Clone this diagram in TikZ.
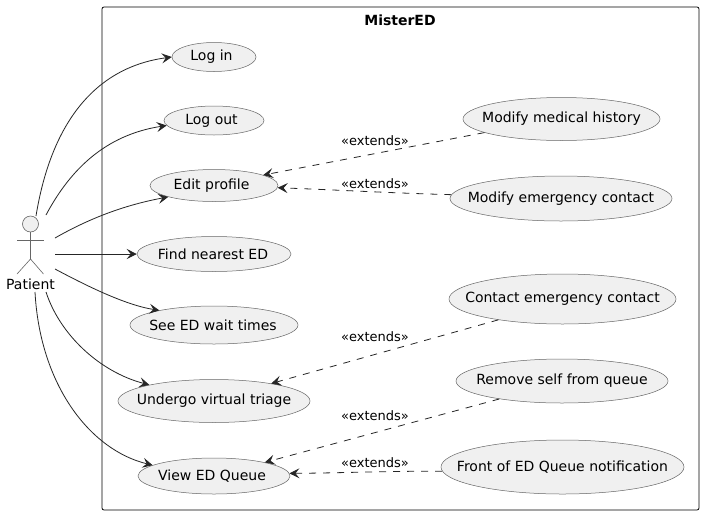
\documentclass[tikz,border=0pt]{standalone}
\usepackage{fontspec}
\setmainfont{DejaVu Sans}
\usetikzlibrary{arrows.meta,shapes.geometric}

\tikzset{
	usecase/.style={draw=black!60, fill=black!6, line width=0.5pt, ellipse, inner sep=0pt, font=\fontsize{14}{16}\selectfont},
	uses/.style={line width=0.8pt, black!85, -{Stealth[length=10pt,width=10pt,inset=4pt]}},
	extends/.style={line width=0.8pt, black!85, dash pattern=on 7pt off 7pt, -{Stealth[length=10pt,width=10pt,inset=4pt]}},
	extlabel/.style={inner sep=0pt, font=\fontsize{13}{15}\selectfont},
	limb/.style={draw=black!60, line width=0.6pt}
}
% text must not push the ellipse wider than its given size
\newcommand{\uc}[2][0pt]{\makebox[0pt]{#2\hspace*{#1}}}

\begin{document}
\begin{tikzpicture}[x=1pt,y=-1pt]
	
	\useasboundingbox (0,0) rectangle (704,515);
	\fill[white] (0,0) rectangle (704,515);
	
	% system box
	\draw[line width=0.8pt, rounded corners=2pt] (102,7) rectangle (699,510);
	\node[font=\bfseries\fontsize{14}{16}\selectfont, inner sep=0pt] (title) at (400,20) {MisterED};
	
	% actor
	\node[circle, limb, fill=black!6, minimum size=16pt, inner sep=0pt] (head) at (30.5,224) {};
	\coordinate (hip) at (30.5,259);
	\draw[limb] (head.south) -- (hip);
	\draw[limb] (17,240) -- (43.5,240);
	\draw[limb] (17,274) -- (hip) -- (43.5,274);
	\node[font=\fontsize{14}{16}\selectfont, inner sep=0pt] (patient) at (30.5,284) {Patient};
	
	\coordinate (pIn) at (36,216);
	\coordinate (pOut) at (46,215);
	\coordinate (pEdit) at (55,238);
	\coordinate (pFind) at (55,254);
	\coordinate (pWait) at (55,269);
	\coordinate (pTriage) at (46,292);
	\coordinate (pQueue) at (35,292);
	
	% use cases, left column
	\node[usecase, minimum width=84pt, minimum height=29pt] (login) at (214,57) {\uc[5pt]{Log in}};
	\node[usecase, minimum width=100pt, minimum height=29pt] (logout) at (214,120.5) {\uc[5pt]{Log out}};
	\node[usecase, minimum width=128pt, minimum height=32pt] (edit) at (214,185.5) {\uc[5pt]{Edit profile}};
	\node[usecase, minimum width=154pt, minimum height=35pt] (find) at (214,254) {\uc[2pt]{Find nearest ED}};
	\node[usecase, minimum width=168pt, minimum height=38pt] (wait) at (214,325) {\uc[2pt]{See ED wait times}};
	\node[usecase, minimum width=192pt, minimum height=43pt] (triage) at (214,401) {\uc{Undergo virtual triage}};
	\node[usecase, minimum width=152pt, minimum height=36pt] (queue) at (214,476) {\uc[4pt]{View ED Queue}};
	
	% use cases, right column
	\node[usecase, minimum width=197pt, minimum height=43pt] (history) at (561.5,119) {\uc{Modify medical history}};
	\node[usecase, minimum width=222pt, minimum height=45pt] (emerg) at (561,198.5) {\uc{Modify emergency contact}};
	\node[usecase, minimum width=227pt, minimum height=50pt] (contact) at (562.5,299) {\uc{Contact emergency contact}};
	\node[usecase, minimum width=212pt, minimum height=44pt] (remove) at (562,381) {\uc{Remove self from queue}};
	\node[usecase, minimum width=243pt, minimum height=54pt] (front) at (562.5,467) {\uc{Front of ED Queue notification}};
	
	% actor links
	\draw[uses] (pIn) .. controls (50,130) and (90,68) .. (login.west);
	\draw[uses] (pOut) .. controls (70,170) and (105,135) .. (logout.186);
	\draw[uses] (pEdit) .. controls (90,218) and (125,205) .. (edit.194);
	\draw[uses] (pFind) -- (find.west);
	\draw[uses] (pWait) .. controls (85,285) and (125,305) .. (wait.165);
	\draw[uses] (pTriage) .. controls (60,335) and (100,372) .. (triage.166);
	\draw[uses] (pQueue) .. controls (40,385) and (90,450) .. (queue.170);
	
	% extension links
	\draw[extends] (history.190) -- (edit.12);
	\draw[extends] (emerg.178) .. controls (390,193) and (340,190) .. (edit.358);
	\draw[extends] (contact.198) -- (triage.17);
	\draw[extends] (remove.196) -- (queue.15);
	\draw[extends] (front.182) .. controls (390,471) and (340,473) .. (queue.2);
	
	\node[extlabel] (lblA) at (375,141) {«extends»};
	\node[extlabel] (lblB) at (375,184) {«extends»};
	\node[extlabel] (lblC) at (375,337) {«extends»};
	\node[extlabel] (lblD) at (375,416) {«extends»};
	\node[extlabel] (lblE) at (375,463) {«extends»};
	
\end{tikzpicture}
\end{document}
